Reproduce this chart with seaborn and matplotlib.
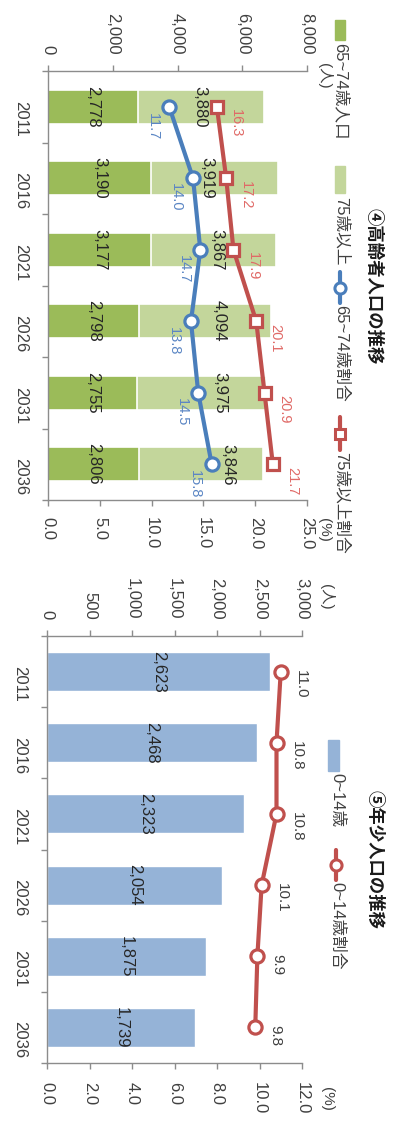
import numpy as np
import pandas as pd
import matplotlib
matplotlib.use("Agg")
import matplotlib.pyplot as plt
import seaborn as sns
from matplotlib.patches import Rectangle
from matplotlib.lines import Line2D

# ---- data -------------------------------------------------------------
years = ["2011", "2016", "2021", "2026", "2031", "2036"]

pop_65_74 = [2778, 3190, 3177, 2798, 2755, 2806]
pop_75_over = [3880, 3919, 3867, 4094, 3975, 3846]
rate_65_74 = [11.7, 14.0, 14.7, 13.8, 14.5, 15.8]
rate_75_over = [16.3, 17.2, 17.9, 20.1, 20.9, 21.7]

pop_0_14 = [2623, 2468, 2323, 2054, 1875, 1739]
rate_0_14 = [11.0, 10.8, 10.8, 10.1, 9.9, 9.8]

elderly_pop_ticks = [0, 2000, 4000, 6000, 8000]
elderly_rate_ticks = [0, 5, 10, 15, 20, 25]
child_pop_ticks = [0, 500, 1000, 1500, 2000, 2500, 3000]
child_rate_ticks = [0, 2, 4, 6, 8, 10, 12]

# label nudges (points) for the 75+ segment values, keeps them clear of the lines
upper_label_nudge = [-1, -6, 2.5, 10, 13, 19]

# ---- style -------------------------------------------------------------
sns.set_theme(style="white")
plt.rcParams["font.family"] = ["Liberation Sans", "Noto Sans CJK JP"]

DARK_GREEN = "#9bbb59"
LIGHT_GREEN = "#c3d69b"
BAR_BLUE = "#95b3d7"
LINE_BLUE = "#4a7ebb"
LINE_RED = "#c0504d"
AXIS_GRAY = "#8c8c8c"
TICK_TEXT = "#404040"
VALUE_TEXT = "#262626"

W, H = 397, 1125
fig = plt.figure(figsize=(W / 100, H / 100), dpi=100)
fig.patch.set_facecolor("white")


def frame(x0, y0, x1, y1):
    return [x0 / W, 1 - y1 / H, (x1 - x0) / W, (y1 - y0) / H]


def style_axes(ax, axr, pop_ticks, rate_ticks, bottom_pad):
    n = len(years)
    # value axis on top
    ax.xaxis.tick_top()
    ax.set_xticks(pop_ticks)
    ax.set_xticklabels([f"{v:,}" for v in pop_ticks])
    ax.tick_params(axis="x", which="both", top=True, bottom=False,
                   labeltop=True, labelbottom=False, labelrotation=-90,
                   length=4, width=1, color=AXIS_GRAY, direction="out",
                   labelsize=12, labelcolor=TICK_TEXT, pad=8)
    # category axis on the left, ticks between categories
    ax.set_yticks(range(n))
    ax.set_yticklabels(years)
    ax.set_yticks(np.arange(-0.5, n, 1.0), minor=True)
    ax.tick_params(axis="y", which="major", left=True, length=0,
                   labelrotation=-90, labelsize=12, labelcolor=TICK_TEXT, pad=14)
    ax.tick_params(axis="y", which="minor", left=True, length=4, width=1,
                   color=AXIS_GRAY, direction="out")
    ax.set_ylim(n - 0.5, -0.5)
    ax.set_xlabel("")
    ax.set_ylabel("")
    for side in ("right", "bottom"):
        ax.spines[side].set_visible(False)
    for side in ("top", "left"):
        ax.spines[side].set_color(AXIS_GRAY)
        ax.spines[side].set_linewidth(1)

    # rate axis at the bottom
    axr.xaxis.set_ticks_position("bottom")
    axr.xaxis.set_label_position("bottom")
    axr.set_xlim(rate_ticks[0], rate_ticks[-1])
    axr.set_xticks(rate_ticks)
    axr.set_xticklabels([f"{v:.1f}" for v in rate_ticks])
    axr.tick_params(axis="x", which="both", bottom=True, top=False,
                    labelbottom=True, labeltop=False, labelrotation=-90,
                    length=4, width=1, color=AXIS_GRAY, direction="out",
                    labelsize=12, labelcolor=TICK_TEXT, pad=bottom_pad)
    axr.set_xlabel("")
    axr.set_ylabel("")
    for side in ("top", "left", "right"):
        axr.spines[side].set_visible(False)
    axr.spines["bottom"].set_color(AXIS_GRAY)
    axr.spines["bottom"].set_linewidth(1)
    axr.set_ylim(n - 0.5, -0.5)


# ---- ④ elderly population --------------------------------------------
ax1 = fig.add_axes(frame(48, 71, 307, 500))
elderly = pd.DataFrame({
    "year": years,
    "young_old": pop_65_74,
    "old_old": pop_75_over,
})
elderly["total"] = elderly["young_old"] + elderly["old_old"]

sns.barplot(data=elderly, y="year", x="total", orient="y", color=LIGHT_GREEN,
            saturation=1, width=0.47, edgecolor="white", linewidth=1.2, ax=ax1)
sns.barplot(data=elderly, y="year", x="young_old", orient="y", color=DARK_GREEN,
            saturation=1, width=0.47, edgecolor="white", linewidth=1.2, ax=ax1)
ax1.set_xlim(0, 8000)

for i, (a, b) in enumerate(zip(pop_65_74, pop_75_over)):
    ax1.text(a / 2, i, f"{a:,}", rotation=-90, ha="center", va="center",
             fontsize=12, color=VALUE_TEXT)
    ax1.annotate(f"{b:,}", xy=(a + b / 2, i), xytext=(upper_label_nudge[i], 0),
                 textcoords="offset points", rotation=-90, ha="center",
                 va="center", fontsize=12, color=VALUE_TEXT)

ax1r = ax1.twiny()
pos = np.arange(len(years))
sns.lineplot(x=rate_65_74, y=pos, sort=False, estimator=None, color=LINE_BLUE,
             linewidth=3, marker="o", markersize=9.5, markerfacecolor="white",
             markeredgecolor=LINE_BLUE, markeredgewidth=2.3, ax=ax1r)
sns.lineplot(x=rate_75_over, y=pos, sort=False, estimator=None, color=LINE_RED,
             linewidth=3, marker="s", markersize=8.5, markerfacecolor="white",
             markeredgecolor=LINE_RED, markeredgewidth=2.3, ax=ax1r)
for i, v in enumerate(rate_65_74):
    ax1r.annotate(f"{v:.1f}", xy=(v, i), xytext=(-12, -14),
                  textcoords="offset points", rotation=-90, ha="center",
                  va="center", fontsize=10.5, color="#5b86c4")
for i, v in enumerate(rate_75_over):
    ax1r.annotate(f"{v:.1f}", xy=(v, i), xytext=(14, -12),
                  textcoords="offset points", rotation=-90, ha="center",
                  va="center", fontsize=10.5, color="#e06a67")

style_axes(ax1, ax1r, elderly_pop_ticks, elderly_rate_ticks, bottom_pad=8)

# ---- ⑤ child population -----------------------------------------------
ax2 = fig.add_axes(frame(47, 636, 302, 1063))
children = pd.DataFrame({"year": years, "pop": pop_0_14})
sns.barplot(data=children, y="year", x="pop", orient="y", color=BAR_BLUE,
            saturation=1, width=0.55, ax=ax2)
ax2.set_xlim(0, 3000)
for i, v in enumerate(pop_0_14):
    ax2.text(v / 2, i, f"{v:,}", rotation=-90, ha="center", va="center",
             fontsize=12, color=VALUE_TEXT)

ax2r = ax2.twiny()
sns.lineplot(x=rate_0_14, y=pos, sort=False, estimator=None, color=LINE_RED,
             linewidth=3, marker="o", markersize=9.5, markerfacecolor="white",
             markeredgecolor=LINE_RED, markeredgewidth=2.3, ax=ax2r)
for i, v in enumerate(rate_0_14):
    ax2r.annotate(f"{v:.1f}", xy=(v, i), xytext=(14.5, 1.5),
                  textcoords="offset points", rotation=-90, ha="center",
                  va="top", fontsize=11, color=TICK_TEXT)

style_axes(ax2, ax2r, child_pop_ticks, child_rate_ticks, bottom_pad=10)

# ---- titles, legends and unit labels (pixel frame overlay) ------------
ov = fig.add_axes([0, 0, 1, 1])
ov.set_xlim(0, W)
ov.set_ylim(H, 0)
ov.axis("off")
ov.patch.set_alpha(0)


def vtext(x, y, s, size=12, weight="normal", color=TICK_TEXT, va="top"):
    ov.text(x, y, s, rotation=-90, ha="center", va=va, fontsize=size,
            fontweight=weight, color=color)


def legend_line(x, y0, y1, color, marker):
    ov.add_line(Line2D([x, x], [y0, y1], color=color, linewidth=3))
    ov.add_line(Line2D([x], [(y0 + y1) / 2], color=color, marker=marker,
                       markersize=8 if marker == "o" else 7.5,
                       markerfacecolor="white", markeredgecolor=color,
                       markeredgewidth=2.2))


# ④
vtext(374, 208, "④高齢者人口の推移", size=12.5, weight="bold", color="#1a1a1a")
ov.add_patch(Rectangle((335, 20), 10, 20, color=DARK_GREEN))
vtext(341, 43, "65~74歳人口")
ov.add_patch(Rectangle((335, 166), 10, 27, color=LIGHT_GREEN))
vtext(341, 197, "75歳以上")
legend_line(340, 272, 303, LINE_BLUE, "o")
vtext(341, 305, "65~74歳割合")
legend_line(340, 417, 450, LINE_RED, "s")
vtext(341, 452, "75歳以上割合")
vtext(324, 76, "(人)", size=11, va="center")
vtext(324, 530, "(%)", size=11, va="center")

# ⑤
vtext(375, 790, "⑤年少人口の推移", size=12.5, weight="bold", color="#1a1a1a")
ov.add_patch(Rectangle((328, 740), 11, 31, color=BAR_BLUE))
vtext(337, 773, "0~14歳")
legend_line(336, 850, 880, LINE_RED, "o")
vtext(337, 882, "0~14歳割合")
vtext(326, 597, "(人)", size=11, va="center")
vtext(327, 1099, "(%)", size=11, va="center")

fig.savefig("out.png", dpi=100, facecolor="white")
